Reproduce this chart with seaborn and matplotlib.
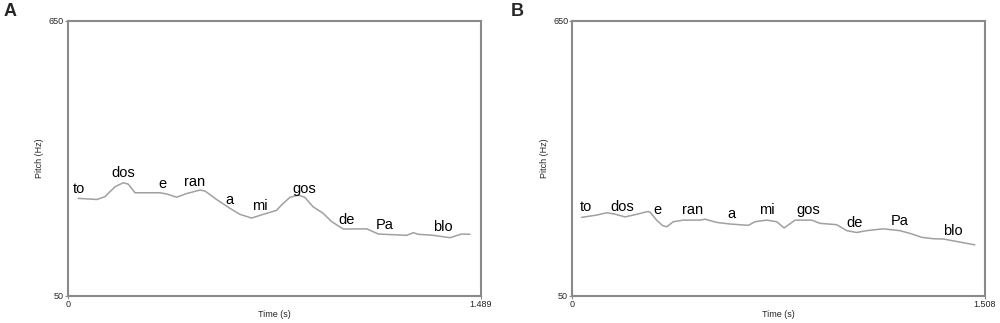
import numpy as np
import pandas as pd
import matplotlib
matplotlib.use("Agg")
import matplotlib.pyplot as plt
import seaborn as sns

# Panel A pitch contour (time s, pitch Hz)
TIME_A = [0.038, 0.105, 0.134, 0.171, 0.200, 0.218, 0.243, 0.333, 0.357, 0.393,
          0.429, 0.477, 0.495, 0.537, 0.585, 0.621, 0.663, 0.705, 0.753, 0.771,
          0.801, 0.831, 0.855, 0.885, 0.921, 0.952, 0.994, 1.078, 1.120, 1.222,
          1.246, 1.264, 1.318, 1.378, 1.420, 1.450]
PITCH_A = [262.5, 260, 266, 288, 296.5, 293.7, 274.7, 274.7, 272, 265,
           273, 280.6, 278.5, 260, 240.7, 227.6, 219.5, 227.6, 236.3, 248,
           264.7, 269.7, 264.7, 244, 229.8, 211.5, 195.5, 196, 184.6, 181.8,
           187.5, 184, 181.8, 176.6, 184.6, 184]

# Panel B pitch contour
TIME_B = [0.034, 0.089, 0.126, 0.156, 0.193, 0.223, 0.278, 0.286, 0.308, 0.330,
          0.345, 0.369, 0.406, 0.467, 0.485, 0.528, 0.576, 0.643, 0.668, 0.710,
          0.747, 0.774, 0.814, 0.875, 0.905, 0.966, 1.003, 1.039, 1.076, 1.136,
          1.197, 1.234, 1.277, 1.319, 1.356, 1.417, 1.471]
PITCH_B = [221, 226, 231, 228, 222, 226, 234, 231, 215, 203,
           200.5, 211.5, 215, 215, 217, 210, 206.5, 203.6, 211.5, 215,
           211.5, 198, 215, 215, 208, 205, 192, 188, 192, 196,
           192, 186, 177.4, 174.4, 173.7, 167, 161]

SYLLABLES = ["to", "dos", "e", "ran", "a", "mi", "gos", "de", "Pa", "blo"]
LABEL_T_A = [0.041, 0.200, 0.342, 0.459, 0.583, 0.691, 0.852, 1.006, 1.144, 1.354]
LABEL_P_A = [283, 317, 293, 299, 260, 246, 283, 215, 204, 200]
LABEL_T_B = [0.048, 0.183, 0.311, 0.440, 0.580, 0.710, 0.863, 1.031, 1.195, 1.389]
LABEL_P_B = [243, 244, 237, 237, 227.6, 237, 237, 209, 213.6, 191]

DURATIONS = [1.489, 1.508]
PANELS = ["A", "B"]

sns.set_theme(style="white")
plt.rcParams["font.family"] = ["Liberation Sans", "DejaVu Sans"]

fig = plt.figure(figsize=(10, 3.23), dpi=100)
frame_color = "#8a8a8a"
line_color = "#a0a0a0"

panels = [
    (TIME_A, PITCH_A, LABEL_T_A, LABEL_P_A, [0.0677, 0.0845, 0.413, 0.851], 0.004),
    (TIME_B, PITCH_B, LABEL_T_B, LABEL_P_B, [0.5723, 0.0845, 0.4127, 0.851], 0.511),
]

for i, (t, p, lt, lp, rect, letter_x) in enumerate(panels):
    ax = fig.add_axes(rect)
    df = pd.DataFrame({"time": t, "pitch": p})
    sns.lineplot(data=df, x="time", y="pitch", ax=ax, color=line_color, lw=1.1)
    for syl, x, y in zip(SYLLABLES, lt, lp):
        ax.text(x, y, syl, ha="center", va="center", fontsize=10.5, color="#000000")

    dur = DURATIONS[i]
    ax.set_xlim(0, dur)
    ax.set_ylim(50, 650)
    ax.set_xticks([0, dur])
    ax.set_xticklabels(["0", f"{dur:.3f}"])
    ax.set_yticks([50, 650])
    ax.set_yticklabels(["50", "650"])
    ax.tick_params(axis="both", labelsize=6.5, length=2, width=0.8,
                   color=frame_color, pad=1, direction="out")
    ax.tick_params(axis="x", bottom=True)
    ax.tick_params(axis="y", left=True)
    ax.set_xlabel("Time (s)", fontsize=6.5, labelpad=1)
    ax.set_ylabel("Pitch (Hz)", fontsize=6.5, labelpad=3)
    for s in ax.spines.values():
        s.set_color(frame_color)
        s.set_linewidth(1.5)

    fig.text(letter_x, 0.99, PANELS[i], fontsize=13, fontweight="bold",
             ha="left", va="top")

fig.savefig("out.png", dpi=100)
